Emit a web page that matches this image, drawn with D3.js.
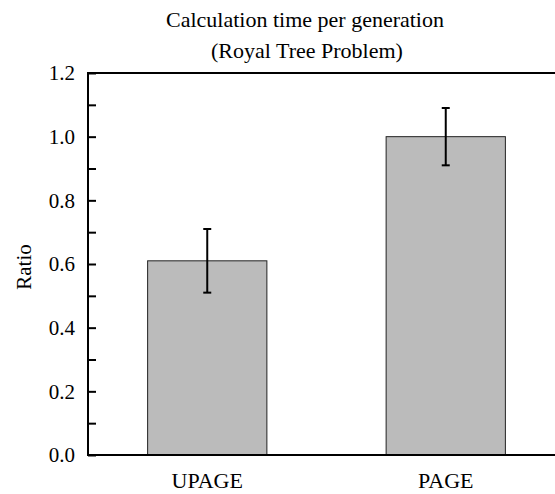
<!DOCTYPE html>
<html>
<head>
<meta charset="utf-8">
<title>Calculation time per generation</title>
<script src="https://cdn.jsdelivr.net/npm/d3@7"></script>
<style>
  body { margin: 0; background: #fff; }
  text { font-family: "Liberation Serif", "Times New Roman", serif; fill: #000; }
  .bar { fill: #bbbbbb; stroke: #222; stroke-width: 1px; }
  .err { stroke: #000; stroke-width: 2px; fill: none; }
  .frame { stroke: #000; stroke-width: 2px; fill: none; }
</style>
</head>
<body>
<script>
// data
var categories = ["UPAGE", "PAGE"];
var ratios = [0.61, 1.0];
var errors = [0.10, 0.09];
var yTicks = [0, 0.1, 0.2, 0.3, 0.4, 0.5, 0.6, 0.7, 0.8, 0.9, 1.0, 1.1, 1.2];
var majorTicks = [0, 0.2, 0.4, 0.6, 0.8, 1.0, 1.2];

var width = 555, height = 494;
var plotLeft = 88, plotRight = 565, plotTop = 73, plotBottom = 455;

var svg = d3.select("body").append("svg")
    .attr("width", width)
    .attr("height", height);

var x = d3.scaleBand()
    .domain(categories)
    .range([plotLeft, plotRight])
    .paddingInner(0.5)
    .paddingOuter(0.25);

var y = d3.scaleLinear()
    .domain([0, 1.2])
    .range([plotBottom, plotTop]);

// bars
svg.append("g").selectAll("rect")
    .data(categories)
  .enter().append("rect")
    .attr("class", "bar")
    .attr("x", function(d) { return x(d); })
    .attr("width", x.bandwidth())
    .attr("y", function(d, i) { return y(ratios[i]); })
    .attr("height", function(d, i) { return y(0) - y(ratios[i]); });

// error bars
var eb = svg.append("g");
categories.forEach(function(c, i) {
  var cx = x(c) + x.bandwidth() / 2;
  var hi = y(ratios[i] + errors[i]), lo = y(ratios[i] - errors[i]);
  eb.append("line").attr("class", "err").attr("x1", cx).attr("x2", cx).attr("y1", hi).attr("y2", lo);
  eb.append("line").attr("class", "err").attr("x1", cx - 4).attr("x2", cx + 4).attr("y1", hi).attr("y2", hi);
  eb.append("line").attr("class", "err").attr("x1", cx - 4).attr("x2", cx + 4).attr("y1", lo).attr("y2", lo);
});

// y axis, ticks pointing inward
var yAxis = d3.axisLeft(y)
    .tickValues(yTicks)
    .tickSize(-8)
    .tickPadding(13)
    .tickFormat(function(d) {
      return majorTicks.some(function(m) { return Math.abs(m - d) < 1e-9; }) ? d3.format(".1f")(d) : "";
    });

var gy = svg.append("g")
    .attr("transform", "translate(" + plotLeft + ",0)")
    .call(yAxis);
gy.select(".domain").remove();
gy.selectAll(".tick line").attr("stroke", "#000").attr("stroke-width", 2);
gy.selectAll(".tick text")
    .style("font-family", "'Liberation Serif', serif")
    .style("font-size", "21px");

// frame: left, bottom, top
svg.append("line").attr("class", "frame")
    .attr("x1", plotLeft).attr("x2", plotLeft).attr("y1", plotTop - 1).attr("y2", plotBottom + 1);
svg.append("line").attr("class", "frame")
    .attr("x1", plotLeft - 1).attr("x2", width).attr("y1", plotBottom).attr("y2", plotBottom);
svg.append("line").attr("class", "frame")
    .attr("x1", plotLeft - 1).attr("x2", width).attr("y1", plotTop).attr("y2", plotTop);

// category labels
svg.append("g").selectAll("text")
    .data(categories)
  .enter().append("text")
    .attr("x", function(d) { return x(d) + x.bandwidth() / 2; })
    .attr("y", 488)
    .attr("text-anchor", "middle")
    .style("font-size", "22px")
    .text(function(d) { return d; });

// y label
svg.append("text")
    .attr("transform", "translate(31,267) rotate(-90)")
    .attr("text-anchor", "middle")
    .style("font-size", "21px")
    .text("Ratio");

// title
svg.append("text")
    .attr("x", 305).attr("y", 27)
    .attr("text-anchor", "middle")
    .style("font-size", "22px")
    .text("Calculation time per generation");
svg.append("text")
    .attr("x", 307).attr("y", 58)
    .attr("text-anchor", "middle")
    .style("font-size", "22px")
    .text("(Royal Tree Problem)");
</script>
</body>
</html>
